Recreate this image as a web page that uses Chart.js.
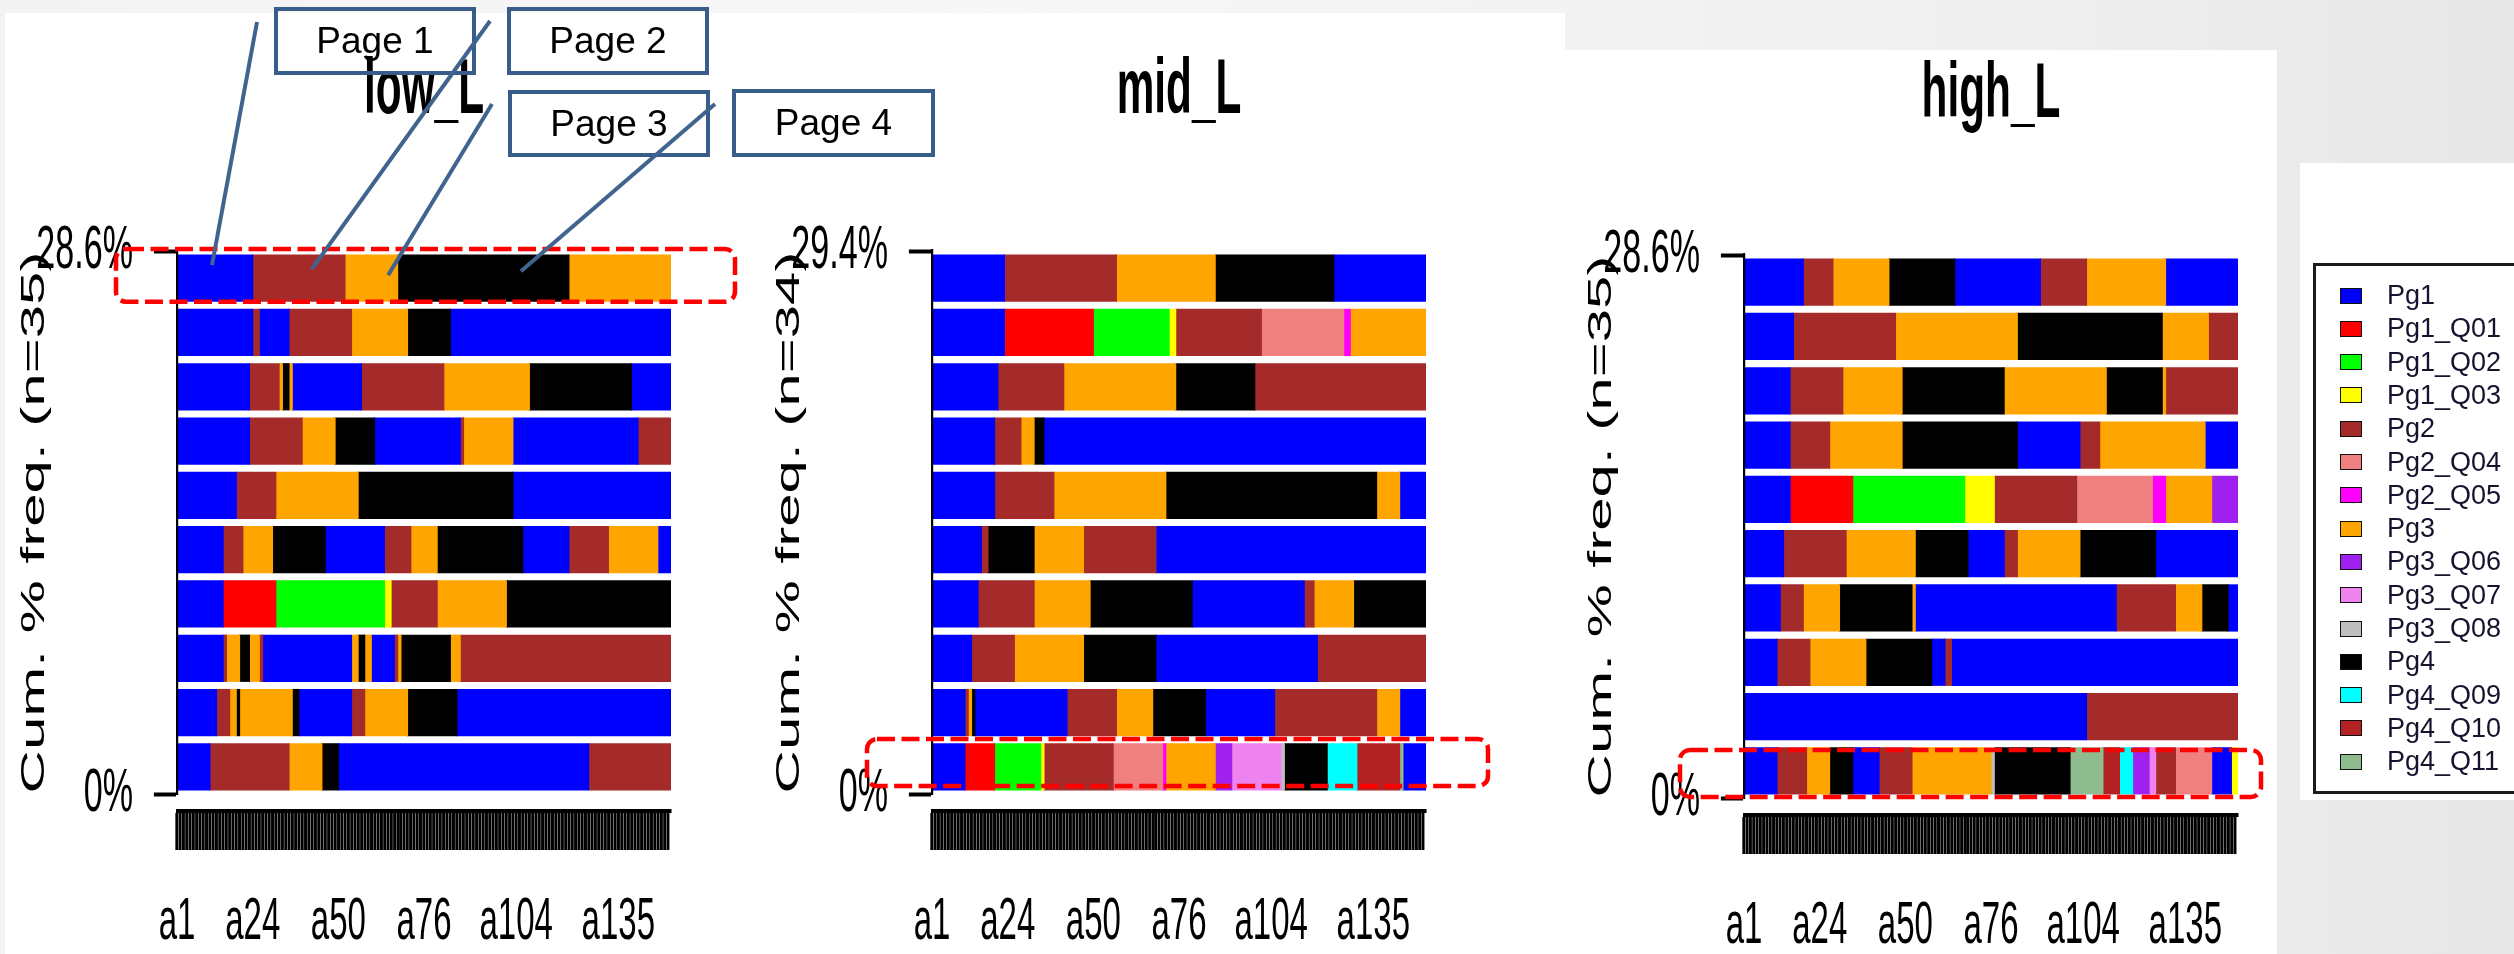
<!DOCTYPE html>
<html lang="en">
<head>
<meta charset="utf-8">
<title>Most frequent page sequences by L group</title>
<script src="https://cdn.jsdelivr.net/npm/chart.js@4.4.1/dist/chart.umd.min.js"></script>
<style>
  html, body { margin: 0; padding: 0; width: 2514px; height: 954px; overflow: hidden; }
  #slide {
    position: relative; width: 2514px; height: 954px; overflow: hidden;
    background: linear-gradient(90deg, #f3f3f3 0%, #f7f7f7 40%, #efefef 80%, #e7e7e7 100%);
    font-family: 'Liberation Sans', Arial, Helvetica, sans-serif;
  }
  .sheet { position: absolute; background: #ffffff; }
  canvas { position: absolute; }
  .pagebox {
    position: absolute; box-sizing: border-box; border: 4px solid #385d8a;
    font-size: 37px; color: #000; display: flex; align-items: center; justify-content: center;
    z-index: 5;
  }
  #notes { position: absolute; left: 0; top: 0; z-index: 6; pointer-events: none; }
  #legend {
    position: absolute; left: 2313px; top: 263px; width: 240px; height: 531px;
    box-sizing: border-box; border: 3px solid #1c1c1c; background: #fff; z-index: 7;
  }
  .lg-row { position: absolute; left: 0; width: 100%; height: 33px; }
  .lg-sw { position: absolute; left: 24px; top: 8.5px; width: 22px; height: 16px; box-sizing: border-box; border: 1.8px solid #111; }
  .lg-tx { position: absolute; left: 71px; top: 0; line-height: 33px; font-size: 27px; color: #14142e; white-space: nowrap; }
</style>
</head>
<body>
<div id="slide">
  <div class="sheet" style="left:5px;top:13px;width:1560px;height:941px"></div>
  <div class="sheet" style="left:1565px;top:50px;width:712px;height:904px"></div>
  <div class="sheet" style="left:2300px;top:163px;width:214px;height:637px"></div>
  <canvas id="lowChart" width="1300" height="954" style="left:0px;top:0px"></canvas>
  <canvas id="midChart" width="1300" height="954" style="left:755px;top:0px"></canvas>
  <canvas id="highChart" width="1300" height="954" style="left:1567px;top:4px"></canvas>
  <div id="legend"></div>
  <svg id="notes" width="2514" height="954" xmlns="http://www.w3.org/2000/svg"></svg>
</div>
<script>
// ---- states and their colours ----
const stateNames = ['Pg1','Pg1_Q01','Pg1_Q02','Pg1_Q03','Pg2','Pg2_Q04','Pg2_Q05','Pg3',
                    'Pg3_Q06','Pg3_Q07','Pg3_Q08','Pg4','Pg4_Q09','Pg4_Q10','Pg4_Q11'];
const stateColors = ['#0000FF','#FF0000','#00FF00','#FFFF00','#A52A2A','#F08080','#FF00FF','#FFA500',
                     '#A020F0','#EE82EE','#BEBEBE','#000000','#00FFFF','#B22222','#8FBC8F'];

// position tick labels of the sequence axis
const xTickLabels = ['a1','a24','a50','a76','a104','a135'];

// ---- low_L: 10 most frequent sequences (top row first), spells as state + length ----
const lowN = 35;
const lowCounts = [1,1,1,1,1,1,1,1,1,1];
const lowStates = [
  ['Pg1','Pg2','Pg3','Pg4','Pg3'],
  ['Pg1','Pg2','Pg1','Pg2','Pg3','Pg4','Pg1'],
  ['Pg1','Pg2','Pg3','Pg4','Pg3','Pg1','Pg2','Pg3','Pg4','Pg1'],
  ['Pg1','Pg2','Pg3','Pg4','Pg1','Pg2','Pg3','Pg1','Pg2'],
  ['Pg1','Pg2','Pg3','Pg4','Pg1'],
  ['Pg1','Pg2','Pg3','Pg4','Pg1','Pg2','Pg3','Pg4','Pg1','Pg2','Pg3','Pg1'],
  ['Pg1','Pg1_Q01','Pg1_Q02','Pg1_Q03','Pg2','Pg3','Pg4'],
  ['Pg1','Pg2','Pg3','Pg4','Pg3','Pg2','Pg1','Pg3','Pg4','Pg3','Pg1','Pg2','Pg3','Pg4','Pg3','Pg2'],
  ['Pg1','Pg2','Pg3','Pg4','Pg3','Pg4','Pg1','Pg2','Pg3','Pg4','Pg1'],
  ['Pg1','Pg2','Pg3','Pg4','Pg1','Pg2']
];
const lowLengths = [
  [23,28,16,52,31],
  [23,2,9,19,17,13,67],
  [22,9,1,2,1,21,25,26,31,12],
  [22,16,10,12,26,1,15,38,10],
  [18,12,25,47,48],
  [14,6,9,16,18,8,8,26,14,12,15,4],
  [14,16,33,2,14,21,50],
  [14,1,4,3,3,1,27,2,2,2,7,1,1,15,3,64],
  [12,4,2,1,16,2,16,4,13,15,65],
  [10,24,10,5,76,25]
];

// ---- mid_L ----
const midN = 34;
const midCounts = [1,1,1,1,1,1,1,1,1,1];
const midStates = [
  ['Pg1','Pg2','Pg3','Pg4','Pg1'],
  ['Pg1','Pg1_Q01','Pg1_Q02','Pg1_Q03','Pg2','Pg2_Q04','Pg2_Q05','Pg3'],
  ['Pg1','Pg2','Pg3','Pg4','Pg2'],
  ['Pg1','Pg2','Pg3','Pg4','Pg1'],
  ['Pg1','Pg2','Pg3','Pg4','Pg3','Pg1'],
  ['Pg1','Pg2','Pg4','Pg3','Pg2','Pg1'],
  ['Pg1','Pg2','Pg3','Pg4','Pg1','Pg2','Pg3','Pg4'],
  ['Pg1','Pg2','Pg3','Pg4','Pg1','Pg2'],
  ['Pg1','Pg2','Pg3','Pg4','Pg1','Pg2','Pg3','Pg4','Pg1','Pg2','Pg3','Pg1'],
  ['Pg1','Pg1_Q01','Pg1_Q02','Pg1_Q03','Pg2','Pg2_Q04','Pg2_Q05','Pg3','Pg3_Q06','Pg3_Q07','Pg3_Q08','Pg4','Pg4_Q09','Pg4_Q10','Pg4_Q11','Pg1']
];
const midLengths = [
  [22,34,30,36,28],
  [22,27,23,2,26,25,2,23],
  [20,20,34,24,52],
  [19,8,4,3,116],
  [19,18,34,64,7,8],
  [15,2,14,15,22,82],
  [14,17,17,31,34,3,12,22],
  [12,13,21,22,49,33],
  [10,1,1,1,28,15,11,16,21,31,7,8],
  [10,9,14,1,21,15,1,15,5,15,1,13,9,13,1,7]
];

// ---- high_L ----
const highN = 35;
const highCounts = [1,1,1,1,1,1,1,1,1,1];
const highStates = [
  ['Pg1','Pg2','Pg3','Pg4','Pg1','Pg2','Pg3','Pg1'],
  ['Pg1','Pg2','Pg3','Pg4','Pg3','Pg2'],
  ['Pg1','Pg2','Pg3','Pg4','Pg3','Pg4','Pg3','Pg2'],
  ['Pg1','Pg2','Pg3','Pg4','Pg1','Pg2','Pg3','Pg1'],
  ['Pg1','Pg1_Q01','Pg1_Q02','Pg1_Q03','Pg2','Pg2_Q04','Pg2_Q05','Pg3','Pg3_Q06'],
  ['Pg1','Pg2','Pg3','Pg4','Pg1','Pg2','Pg3','Pg4','Pg1'],
  ['Pg1','Pg2','Pg3','Pg4','Pg3','Pg1','Pg2','Pg3','Pg4','Pg1'],
  ['Pg1','Pg2','Pg3','Pg4','Pg1','Pg2','Pg1'],
  ['Pg1','Pg2'],
  ['Pg1','Pg2','Pg3','Pg4','Pg1','Pg2','Pg3','Pg3_Q08','Pg4','Pg4_Q11','Pg4_Q10','Pg4_Q09','Pg3_Q06','Pg3_Q07','Pg2','Pg2_Q04','Pg1','Pg1_Q03']
];
const highLengths = [
  [18,9,17,20,26,14,24,22],
  [15,31,37,44,14,9],
  [14,16,18,31,31,17,1,22],
  [14,12,22,35,19,6,32,10],
  [14,19,34,9,25,23,4,14,8],
  [12,19,21,16,11,4,19,23,25],
  [11,7,11,22,1,61,18,8,8,3],
  [10,10,17,20,4,2,87],
  [104,46],
  [10,9,7,7,8,10,24,1,23,10,5,4,5,2,6,11,6,2]
];

// ---- layout of one panel (canvas units; the drawing is condensed horizontally by SX) ----
const SX = 0.55;
const FONT = "'Liberation Sans', Arial, Helvetica, sans-serif";
const AREA = { left: 177 / SX, right: 671 / SX, top: 251, bottom: 794 };
const AXIS_DROP = 17;          // gap between plot bottom and the position axis line
const TITLE_SIZE = 77, TITLE_TOP = 52.8;

const condense = {
  id: 'condense',
  beforeDraw(chart) { chart.ctx.save(); chart.ctx.scale(SX, 1); },
  afterDraw(chart) { chart.ctx.restore(); }
};

const colorOf = name => stateColors[stateNames.indexOf(name)];

function makePanel(id, left, top, title, n, counts, states, lengths) {
  const canvas = document.getElementById(id);
  const W = canvas.width, H = canvas.height;
  const seqLen = lengths[0].reduce((a, b) => a + b, 0);
  const freqs = counts.map(c => 100 * c / n);
  const maxPct = freqs.reduce((a, b) => a + b, 0);

  // centre of each row on the cumulative-frequency axis (first row on top)
  let acc = maxPct;
  const centers = freqs.map(f => { const c = acc - f / 2; acc -= f; return c; });

  const nSpells = Math.max(...lengths.map(r => r.length));
  const datasets = [];
  for (let k = 0; k < nSpells; k++) {
    datasets.push({
      label: 'spell ' + (k + 1),
      data: lengths.map(r => (k < r.length ? r[k] : null)),
      backgroundColor: states.map(r => (k < r.length ? colorOf(r[k]) : 'rgba(0,0,0,0)')),
      borderWidth: 0,
      inflateAmount: 1,
      barPercentage: 1 / 1.2,
      categoryPercentage: 1
    });
  }

  const xTickPos = xTickLabels.map(l => parseInt(l.slice(1), 10) - 1);
  const axisValue = -AXIS_DROP * maxPct / (AREA.bottom - AREA.top);

  const chart = new Chart(canvas, {
    type: 'bar',
    data: { labels: centers, datasets },
    options: {
      indexAxis: 'y',
      responsive: false,
      animation: false,
      devicePixelRatio: 1,
      events: [],
      layout: { padding: { left: 0, top: 0, right: W - AREA.right, bottom: H - AREA.bottom } },
      plugins: {
        legend: { display: false },
        tooltip: { enabled: false },
        title: {
          display: true, text: title, fullSize: false, color: '#000',
          font: { family: FONT, size: TITLE_SIZE, weight: 'bold', lineHeight: 1 },
          padding: { top: TITLE_TOP, bottom: AREA.top - TITLE_TOP - TITLE_SIZE }
        }
      },
      scales: {
        y: {
          type: 'linear', position: 'left', min: 0, max: maxPct,
          stacked: true, offset: false,
          afterBuildTicks: s => { s.ticks = [{ value: 0 }, { value: maxPct }]; },
          afterFit: s => { s.width = AREA.left; },
          grid: { drawOnChartArea: false, drawTicks: true, tickLength: 42, tickWidth: 4, tickColor: '#000', offset: false },
          border: { display: true, width: 4, color: '#000', z: 1 },
          ticks: {
            padding: 38, color: '#000',
            font: { family: FONT, size: 62, lineHeight: 1 },
            callback: v => (v === 0 ? '0%' : v.toFixed(1) + '%')
          },
          title: {
            display: true, text: 'Cum. % freq. (n=' + n + ')', color: '#000',
            font: { family: FONT, size: 60, lineHeight: 1 },
            padding: { top: 34, bottom: 0 }
          }
        },
        x: {
          type: 'linear', min: 0, max: seqLen, stacked: true,
          position: { y: axisValue },
          afterBuildTicks: s => { s.ticks = Array.from({ length: seqLen }, (_, i) => ({ value: i })); },
          grid: { drawOnChartArea: false, drawTicks: true, tickLength: 37, tickWidth: 5.4, tickColor: '#000', lineWidth: 1, color: '#000' },
          border: { display: true, width: 4, color: '#000' },
          ticks: {
            autoSkip: false, maxRotation: 0, minRotation: 0, padding: 44.5, color: '#000',
            font: { family: FONT, size: 60, lineHeight: 1 },
            callback: v => { const i = xTickPos.indexOf(v); return i >= 0 ? xTickLabels[i] : ''; }
          }
        }
      }
    },
    plugins: [condense]
  });
  return { chart, left, top };
}

const low = makePanel('lowChart', 0, 0, 'low_L', lowN, lowCounts, lowStates, lowLengths);
const mid = makePanel('midChart', 755, 0, 'mid_L', midN, midCounts, midStates, midLengths);
const high = makePanel('highChart', 1567, 4, 'high_L', highN, highCounts, highStates, highLengths);

// ---- legend ----
const legendBox = document.getElementById('legend');
stateNames.forEach((name, i) => {
  const row = document.createElement('div');
  row.className = 'lg-row';
  row.style.top = (13 + i * 33.3) + 'px';
  const sw = document.createElement('span');
  sw.className = 'lg-sw';
  sw.style.background = stateColors[i];
  const tx = document.createElement('span');
  tx.className = 'lg-tx';
  tx.textContent = name;
  row.appendChild(sw);
  row.appendChild(tx);
  legendBox.appendChild(row);
});

// ---- highlighted rows and page call-outs ----
const svg = document.getElementById('notes');
const NS = 'http://www.w3.org/2000/svg';
function svgEl(tag, attrs) {
  const e = document.createElementNS(NS, tag);
  for (const k in attrs) e.setAttribute(k, attrs[k]);
  svg.appendChild(e);
  return e;
}

const highlights = [
  { p: low, row: 0, pad: [61, 6.5, 64, 1] },
  { p: mid, row: 9, pad: [65, 5.2, 62, -3.5] },
  { p: high, row: 9, pad: [64, -1.8, 23, 3.5] }
];
highlights.forEach(({ p, row, pad }) => {
  const el = p.chart.getDatasetMeta(0).data[row];
  const a = p.chart.chartArea;
  const x1 = p.left + SX * a.left - pad[0];
  const x2 = p.left + SX * a.right + pad[2];
  const y1 = p.top + el.y - el.height / 2 - pad[1];
  const y2 = p.top + el.y + el.height / 2 + pad[3];
  svgEl('rect', {
    x: x1, y: y1, width: x2 - x1, height: y2 - y1, rx: 10, ry: 10,
    fill: 'none', stroke: '#ff0000', 'stroke-width': 4.5, 'stroke-dasharray': '18 6.5'
  });
});

const callouts = [
  { text: 'Page 1', box: [274, 7, 202, 68], from: [257, 22], spell: 0, frac: 0.46, dy: -13 },
  { text: 'Page 2', box: [507, 7, 202, 68], from: [490, 21], spell: 1, frac: 0.64, dy: -9 },
  { text: 'Page 3', box: [508, 90, 202, 67], from: [492, 104], spell: 2, frac: 0.82, dy: -3 },
  { text: 'Page 4', box: [732, 89, 203, 68], from: [715, 104], spell: 3, frac: 0.72, dy: -7 }
];
const slide = document.getElementById('slide');
callouts.forEach(c => {
  const d = document.createElement('div');
  d.className = 'pagebox';
  d.style.left = c.box[0] + 'px';
  d.style.top = c.box[1] + 'px';
  d.style.width = c.box[2] + 'px';
  d.style.height = c.box[3] + 'px';
  d.textContent = c.text;
  slide.appendChild(d);

  const el = low.chart.getDatasetMeta(c.spell).data[0];
  const tx = low.left + SX * (el.base + c.frac * (el.x - el.base));
  const ty = low.top + el.y + c.dy;
  svgEl('line', {
    x1: c.from[0], y1: c.from[1], x2: tx, y2: ty,
    stroke: '#41648f', 'stroke-width': 4, 'stroke-linecap': 'butt'
  });
});
</script>
</body>
</html>
